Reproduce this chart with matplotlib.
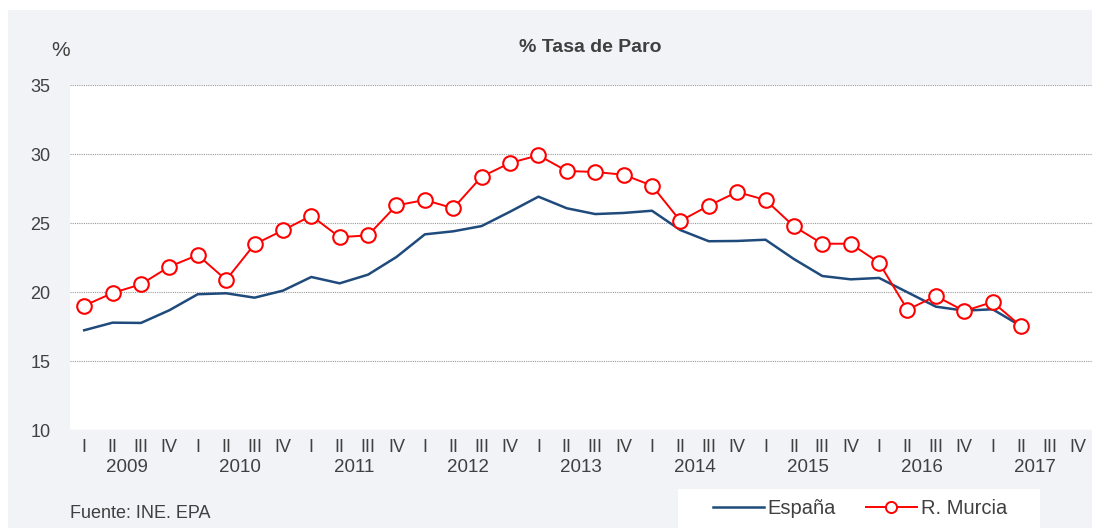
import matplotlib.pyplot as plt
from matplotlib.patches import Rectangle
from matplotlib.lines import Line2D
import matplotlib.transforms as mtransforms

plt.rcParams['font.family'] = ['Liberation Sans', 'DejaVu Sans']

# datos EPA, tasa de paro trimestral 2009 I - 2017 II
years = ['2009', '2010', '2011', '2012', '2013', '2014', '2015', '2016', '2017']
quarters = ['I', 'II', 'III', 'IV']
espana = [17.25, 17.80, 17.78, 18.70, 19.86, 19.93, 19.61, 20.12,
          21.11, 20.65, 21.28, 22.56, 24.20, 24.42, 24.80, 25.84,
          26.93, 26.09, 25.67, 25.75, 25.91, 24.51, 23.70, 23.72,
          23.81, 22.41, 21.18, 20.94, 21.04, 20.00, 18.96, 18.67,
          18.77, 17.55]
murcia = [19.03, 19.95, 20.58, 21.86, 22.70, 20.90, 23.48, 24.49,
          25.55, 23.99, 24.13, 26.30, 26.69, 26.09, 28.38, 29.37,
          29.93, 28.79, 28.72, 28.52, 27.73, 25.17, 26.28, 27.27,
          26.69, 24.78, 23.52, 23.52, 22.14, 18.74, 19.73, 18.64,
          19.30, 17.54]

W, H = 1108, 530
txt = '#404040'
fig = plt.figure(figsize=(W / 100, H / 100), dpi=100)
fig.patch.set_facecolor('white')
fig.patches.append(Rectangle((8 / W, 1 - 528 / H), 1084 / W, 518 / H,
                             transform=fig.transFigure, facecolor='#f2f3f7',
                             edgecolor='none', zorder=-10))

ax = fig.add_axes([70 / W, 1 - 430.3 / H, 1022 / W, 345 / H])
ax.set_facecolor('white')

x = list(range(len(espana)))
ax.plot(x, espana, color='#1f4a7c', linewidth=1.8, label='España', zorder=3)
ax.plot(range(len(murcia)), murcia, color='#ff0000', linewidth=1.4, marker='o',
        markersize=10.5, markerfacecolor='white', markeredgecolor='#ff0000',
        markeredgewidth=1.5, label='R. Murcia', zorder=4)

ax.set_xlim(-0.5, 35.5)
ax.set_ylim(10, 35)
ax.set_yticks([10, 15, 20, 25, 30, 35])
ax.yaxis.grid(True, linestyle=(0, (1, 1)), color='#999999', linewidth=0.8)
ax.set_axisbelow(True)
for s in ax.spines.values():
    s.set_visible(False)

ax.set_xticks(range(36))
ax.set_xticklabels(quarters * len(years))
ax.tick_params(axis='both', length=0, labelsize=13, labelcolor=txt)
ax.tick_params(axis='x', pad=6)
ax.tick_params(axis='y', pad=14)

trans = mtransforms.blended_transform_factory(ax.transData, fig.transFigure)
for k, yr in enumerate(years):
    ax.text(4 * k + 1.5, 1 - 467 / H, yr, transform=trans, ha='center',
            va='center', fontsize=13.5, color=txt)

fig.text(61 / W, 1 - 50 / H, '%', ha='center', va='center', fontsize=15, color=txt)
fig.text(590 / W, 1 - 47 / H, '% Tasa de Paro', ha='center', va='center',
         fontsize=14, fontweight='bold', color=txt)
fig.text(70 / W, 1 - 513 / H, 'Fuente: INE. EPA', ha='left', va='center',
         fontsize=13, color=txt)

fig.patches.append(Rectangle((678 / W, 1 - 528 / H), 362 / W, 39 / H,
                             transform=fig.transFigure, facecolor='white',
                             edgecolor='none', zorder=-5))
handles = [Line2D([], [], color='#1f4a7c', linewidth=1.8),
           Line2D([], [], color='#ff0000', linewidth=1.4, marker='o', markersize=8,
                  markerfacecolor='white', markeredgecolor='#ff0000', markeredgewidth=1.4)]
leg = fig.legend(handles, ['España', 'R. Murcia'], loc='center',
                 bbox_to_anchor=(860 / W, 1 - 509 / H), ncol=2, frameon=False,
                 fontsize=14.5, handlelength=2.5, handletextpad=0.2,
                 columnspacing=1.5, labelcolor=txt)

fig.savefig('out.png', dpi=100)
